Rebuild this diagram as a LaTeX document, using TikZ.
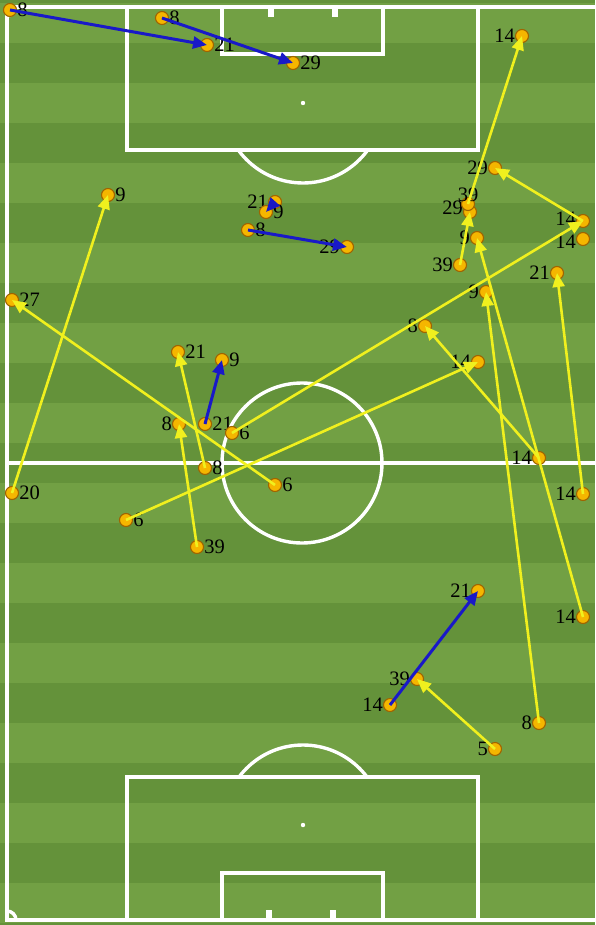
\documentclass[tikz,border=0pt]{standalone}
\usepackage{fontspec}
\setmainfont{Liberation Serif}
\usepackage{tikz}
\usetikzlibrary{arrows.meta, positioning, calc}

\definecolor{grassdark}{RGB}{100,146,58}
\definecolor{grasslight}{RGB}{114,160,68}
\definecolor{dotfill}{RGB}{245,182,0}
\definecolor{dotedge}{RGB}{160,100,0}
\definecolor{passyellow}{RGB}{240,240,30}
\definecolor{passblue}{RGB}{25,25,200}

\begin{document}
\begin{tikzpicture}[
    x=1pt,y=-1pt,
    pitchline/.style={draw=white, line width=3.4pt},
    playerdot/.style={circle, draw=dotedge, fill=dotfill, line width=1.1pt, minimum size=13pt, inner sep=0pt},
    numlbl/.style={font=\fontsize{20.5}{20.5}\selectfont, text=black, inner sep=0pt},
    label distance=0pt,
    yarrow/.style={-{Triangle[length=14pt,width=12pt]}, draw=passyellow, fill=passyellow, line width=2.6pt},
    barrow/.style={-{Triangle[length=14pt,width=12pt]}, draw=passblue, fill=passblue, line width=3pt}
]
    \useasboundingbox (0,0) rectangle (595,925);
    \clip (0,0) rectangle (595,925);

    % --- grass ---
    \fill[grassdark] (0,0) rectangle (595,925);
    \foreach \y in {3,83,...,883}
        \fill[grasslight] (0,\y) rectangle (595,\y+40);

    % --- pitch markings ---
    \draw[pitchline] (7,7) rectangle (598,920);
    \draw[pitchline] (7,463) -- (598,463);
    \draw[pitchline] (302,463) circle (80);
    % top end
    \draw[pitchline] (127,7) rectangle (478,150);
    \draw[pitchline] (222,7) rectangle (383,54);
    \fill[white] (268,7) rectangle (274,17);
    \fill[white] (332,7) rectangle (338,17);
    \fill[white] (303,103) circle (2.2);
    \begin{scope}
        \clip (0,151) rectangle (595,300);
        \draw[pitchline] (303,103) circle (80);
    \end{scope}
    % bottom end
    \draw[pitchline] (127,777) rectangle (478,920);
    \draw[pitchline] (222,873) rectangle (383,920);
    \fill[white] (266,910) rectangle (272,920);
    \fill[white] (330,910) rectangle (336,920);
    \fill[white] (303,825) circle (2.2);
    \begin{scope}
        \clip (0,600) rectangle (595,776);
        \draw[pitchline] (303,825) circle (80);
    \end{scope}
    % corners
    \begin{scope}
        \clip (7,7) rectangle (598,920);
        \draw[pitchline] (7,920) circle (9);
        \draw[pitchline] (7,7) circle (9);
    \end{scope}

    % --- players ---
    \node[playerdot, label={[numlbl]right:8}] (p8a) at (10,10) {};
    \node[playerdot, label={[numlbl]right:21}] (p21a) at (207,45) {};
    \node[playerdot, label={[numlbl]right:8}] (p8b) at (162,18) {};
    \node[playerdot, label={[numlbl]right:29}] (p29a) at (293,63) {};
    \node[playerdot, label={[numlbl]left:14}] (p14a) at (522,36) {};
    \node[playerdot, label={[numlbl]right:9}] (p9a) at (108,195) {};
    \node[playerdot, label={[numlbl]left:21}] (p21b) at (275,202) {};
    \node[playerdot, label={[numlbl]right:9}] (p9b) at (266,212) {};
    \node[playerdot, label={[numlbl]right:8}] (p8c) at (248,230) {};
    \node[playerdot, label={[numlbl]left:29}] (p29b) at (347,247) {};
    \node[playerdot, label={[numlbl]left:29}] (p29c) at (495,168) {};
    \node[playerdot, label={[numlbl, yshift=4pt]left:29}] (p29d) at (470,212) {};
    \node[playerdot, label={[numlbl, yshift=-5pt]above:39}] (p39b) at (468,204) {};
    \node[playerdot, label={[numlbl, yshift=2.5pt]left:14}] (p14b) at (583,221) {};
    \node[playerdot, label={[numlbl, yshift=-2.5pt]left:14}] (p14c) at (583,239) {};
    \node[playerdot, label={[numlbl]left:9}] (p9c) at (477,238) {};
    \node[playerdot, label={[numlbl]left:39}] (p39c) at (460,265) {};
    \node[playerdot, label={[numlbl]left:21}] (p21c) at (557,273) {};
    \node[playerdot, label={[numlbl]left:9}] (p9d) at (486,292) {};
    \node[playerdot, label={[numlbl]right:27}] (p27) at (12,300) {};
    \node[playerdot, label={[numlbl]left:8}] (p8d) at (425,326) {};
    \node[playerdot, label={[numlbl]right:21}] (p21d) at (178,352) {};
    \node[playerdot, label={[numlbl]right:9}] (p9e) at (222,360) {};
    \node[playerdot, label={[numlbl]left:14}] (p14d) at (478,362) {};
    \node[playerdot, label={[numlbl]left:8}] (p8e) at (179,424) {};
    \node[playerdot, label={[numlbl]right:21}] (p21e) at (205,424) {};
    \node[playerdot, label={[numlbl]right:6}] (p6a) at (232,433) {};
    \node[playerdot, label={[numlbl]left:14}] (p14e) at (539,458) {};
    \node[playerdot, label={[numlbl]right:8}] (p8f) at (205,468) {};
    \node[playerdot, label={[numlbl]right:6}] (p6b) at (275,485) {};
    \node[playerdot, label={[numlbl]right:20}] (p20) at (12,493) {};
    \node[playerdot, label={[numlbl]left:14}] (p14f) at (583,494) {};
    \node[playerdot, label={[numlbl]right:6}] (p6c) at (126,520) {};
    \node[playerdot, label={[numlbl]right:39}] (p39d) at (197,547) {};
    \node[playerdot, label={[numlbl]left:21}] (p21f) at (478,591) {};
    \node[playerdot, label={[numlbl]left:14}] (p14g) at (583,617) {};
    \node[playerdot, label={[numlbl]left:39}] (p39e) at (417,679) {};
    \node[playerdot, label={[numlbl]left:14}] (p14h) at (390,705) {};
    \node[playerdot, label={[numlbl]left:8}] (p8g) at (539,723) {};
    \node[playerdot, label={[numlbl]left:5}] (p5) at (495,749) {};

    % --- passes ---
    \draw[yarrow] (p20.center) -- (p9a.center);
    \draw[yarrow] (p6b.center) -- (p27.center);
    \draw[yarrow] (p8f.center) -- (p21d.center);
    \draw[yarrow] (p39d.center) -- (p8e.center);
    \draw[yarrow] (p6a.center) -- (p14b.center);
    \draw[yarrow] (p14b.center) -- (p29c.center);
    \draw[yarrow] (p39c.center) -- (p29d.center);
    \draw[yarrow] (p39b.center) -- (p14a.center);
    \draw[yarrow] (p14g.center) -- (p9c.center);
    \draw[yarrow] (p14e.center) -- (p8d.center);
    \draw[yarrow] (p6c.center) -- (p14d.center);
    \draw[yarrow] (p8g.center) -- (p9d.center);
    \draw[yarrow] (p14f.center) -- (p21c.center);
    \draw[yarrow] (p5.center) -- (p39e.center);

    \draw[barrow] (p8a.center) -- (p21a.center);
    \draw[barrow] (p8b.center) -- (p29a.center);
    \draw[barrow] (p8c.center) -- (p29b.center);
    \draw[barrow] (p21b.center) -- (p9b.center);
    \draw[barrow] (p21e.center) -- (p9e.center);
    \draw[barrow] (p14h.center) -- (p21f.center);

\end{tikzpicture}
\end{document}
